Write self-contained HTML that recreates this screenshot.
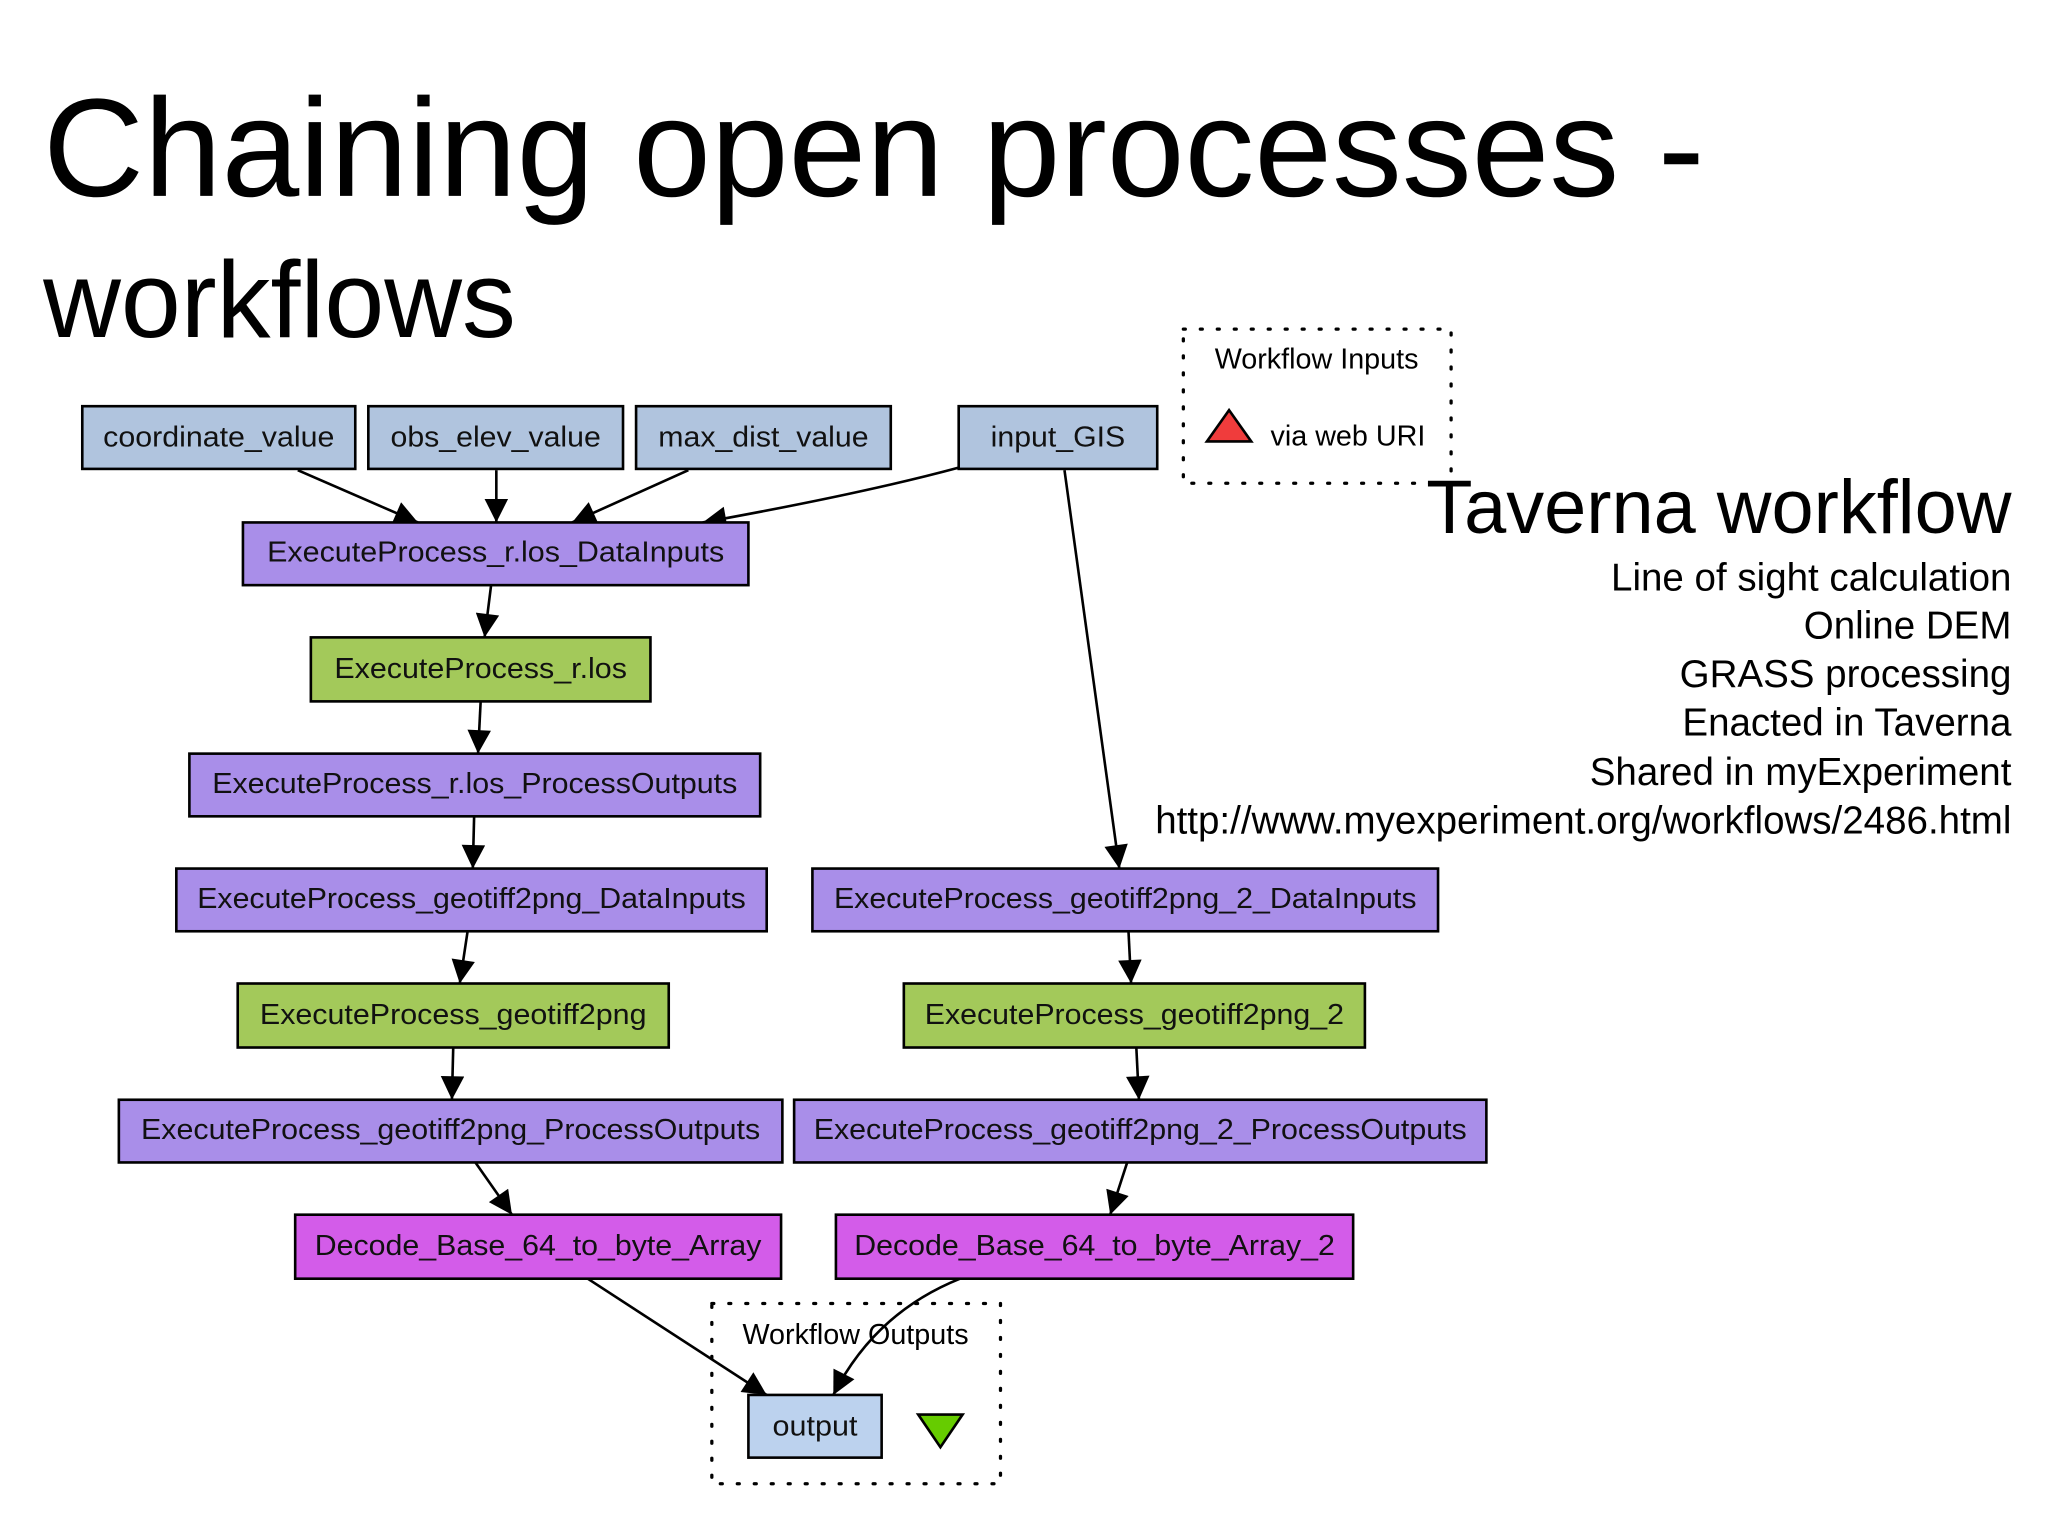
<!DOCTYPE html>
<html><head><meta charset="utf-8"><style>
html,body{margin:0;padding:0;background:#fff;}
svg{display:block;}
text{font-family:"Liberation Sans",Arial,sans-serif;}
</style></head><body>
<svg width="2048" height="1536" viewBox="0 0 1568 1176" xmlns="http://www.w3.org/2000/svg">
<defs>
<marker id="a" viewBox="0 0 10 10" refX="10" refY="5" markerWidth="26" markerHeight="18" markerUnits="userSpaceOnUse" orient="auto">
<path d="M0,0 L10,5 L0,10 z" fill="#000"/></marker>
</defs>
<rect width="1568" height="1176" fill="#fff"/>
<text x="33" y="150" font-size="107" fill="#000" textLength="1272" lengthAdjust="spacingAndGlyphs">Chaining open processes -</text>
<text x="33" y="258" font-size="83" fill="#000" textLength="362" lengthAdjust="spacingAndGlyphs">workflows</text>

<g text-anchor="end" fill="#000">
<text x="1540" y="408" font-size="58">Taverna workflow</text>
<text x="1540" y="452" font-size="29.5">Line of sight calculation</text>
<text x="1540" y="489" font-size="29.5">Online DEM</text>
<text x="1540" y="526" font-size="29.5">GRASS processing</text>
<text x="1540" y="563" font-size="29.5">Enacted in Taverna</text>
<text x="1540" y="601" font-size="29.5">Shared in myExperiment</text>
<text x="1540" y="638" font-size="29.5">http://www.myexperiment.org/workflows/2486.html</text>
</g>

<rect x="906" y="252" width="205" height="118" fill="none" stroke="#000" stroke-width="2.5" stroke-dasharray="1.5 11.5" stroke-linecap="round"/>
<text x="1008" y="282" font-size="22" text-anchor="middle">Workflow Inputs</text>
<path d="M924,338 L941,314 L958,338 z" fill="#f03c3c" stroke="#000" stroke-width="2"/>
<text x="1032" y="341" font-size="22" text-anchor="middle">via web URI</text>

<rect x="545" y="998" width="221" height="138" fill="none" stroke="#000" stroke-width="2.5" stroke-dasharray="1.5 11.5" stroke-linecap="round"/>
<text x="655" y="1029" font-size="22" text-anchor="middle">Workflow Outputs</text>
<path d="M703,1083 L737,1083 L720,1108 z" fill="#66cc00" stroke="#000" stroke-width="2"/>

<g stroke="#000" stroke-width="2" fill="none" marker-end="url(#a)">
<line x1="228" y1="360" x2="320" y2="400"/>
<line x1="380" y1="360" x2="380" y2="400"/>
<line x1="527" y1="360" x2="438" y2="400"/>
<path d="M734,358 Q660,378 538,400"/>
<line x1="815" y1="360" x2="857" y2="665"/>
<line x1="376" y1="448" x2="371" y2="488"/>
<line x1="368" y1="537" x2="366" y2="577"/>
<line x1="363" y1="625" x2="362" y2="665"/>
<line x1="358" y1="713" x2="352" y2="753"/>
<line x1="347" y1="802" x2="346" y2="842"/>
<line x1="364" y1="890" x2="392" y2="930"/>
<line x1="864" y1="713" x2="866" y2="753"/>
<line x1="870" y1="802" x2="872" y2="842"/>
<line x1="863" y1="890" x2="850" y2="930"/>
<line x1="450" y1="979" x2="587" y2="1068"/>
<path d="M735,979 Q670,1005 638,1068"/>
</g>

<g stroke="#000" stroke-width="2">
<rect x="63" y="311" width="209" height="48" fill="#b0c4de"/>
<rect x="282" y="311" width="195" height="48" fill="#b0c4de"/>
<rect x="487" y="311" width="195" height="48" fill="#b0c4de"/>
<rect x="734" y="311" width="152" height="48" fill="#b0c4de"/>
<rect x="186" y="400" width="387" height="48" fill="#a98ee9"/>
<rect x="238" y="488" width="260" height="49" fill="#a3c95a"/>
<rect x="145" y="577" width="437" height="48" fill="#a98ee9"/>
<rect x="135" y="665" width="452" height="48" fill="#a98ee9"/>
<rect x="182" y="753" width="330" height="49" fill="#a3c95a"/>
<rect x="91" y="842" width="508" height="48" fill="#a98ee9"/>
<rect x="226" y="930" width="372" height="49" fill="#d35ce9"/>
<rect x="622" y="665" width="479" height="48" fill="#a98ee9"/>
<rect x="692" y="753" width="353" height="49" fill="#a3c95a"/>
<rect x="608" y="842" width="530" height="48" fill="#a98ee9"/>
<rect x="640" y="930" width="396" height="49" fill="#d35ce9"/>
<rect x="573" y="1068" width="102" height="48" fill="#bcd2ee"/>
</g>
<g font-size="22" text-anchor="middle" fill="#111">
<text x="167.5" y="342" textLength="177" lengthAdjust="spacingAndGlyphs">coordinate_value</text>
<text x="379.5" y="342" textLength="161" lengthAdjust="spacingAndGlyphs">obs_elev_value</text>
<text x="584.5" y="342" textLength="161" lengthAdjust="spacingAndGlyphs">max_dist_value</text>
<text x="810" y="342" textLength="103" lengthAdjust="spacingAndGlyphs">input_GIS</text>
<text x="379.5" y="430" textLength="350" lengthAdjust="spacingAndGlyphs">ExecuteProcess_r.los_DataInputs</text>
<text x="368" y="519" textLength="224" lengthAdjust="spacingAndGlyphs">ExecuteProcess_r.los</text>
<text x="363.5" y="607" textLength="402" lengthAdjust="spacingAndGlyphs">ExecuteProcess_r.los_ProcessOutputs</text>
<text x="361" y="695" textLength="420" lengthAdjust="spacingAndGlyphs">ExecuteProcess_geotiff2png_DataInputs</text>
<text x="347" y="784" textLength="296" lengthAdjust="spacingAndGlyphs">ExecuteProcess_geotiff2png</text>
<text x="345" y="872" textLength="474" lengthAdjust="spacingAndGlyphs">ExecuteProcess_geotiff2png_ProcessOutputs</text>
<text x="412" y="961" textLength="342" lengthAdjust="spacingAndGlyphs">Decode_Base_64_to_byte_Array</text>
<text x="861.5" y="695" textLength="446" lengthAdjust="spacingAndGlyphs">ExecuteProcess_geotiff2png_2_DataInputs</text>
<text x="868.5" y="784" textLength="321" lengthAdjust="spacingAndGlyphs">ExecuteProcess_geotiff2png_2</text>
<text x="873" y="872" textLength="500" lengthAdjust="spacingAndGlyphs">ExecuteProcess_geotiff2png_2_ProcessOutputs</text>
<text x="838" y="961" textLength="368" lengthAdjust="spacingAndGlyphs">Decode_Base_64_to_byte_Array_2</text>
<text x="624" y="1099" textLength="65" lengthAdjust="spacingAndGlyphs">output</text>
</g>
</svg>
</body></html>
